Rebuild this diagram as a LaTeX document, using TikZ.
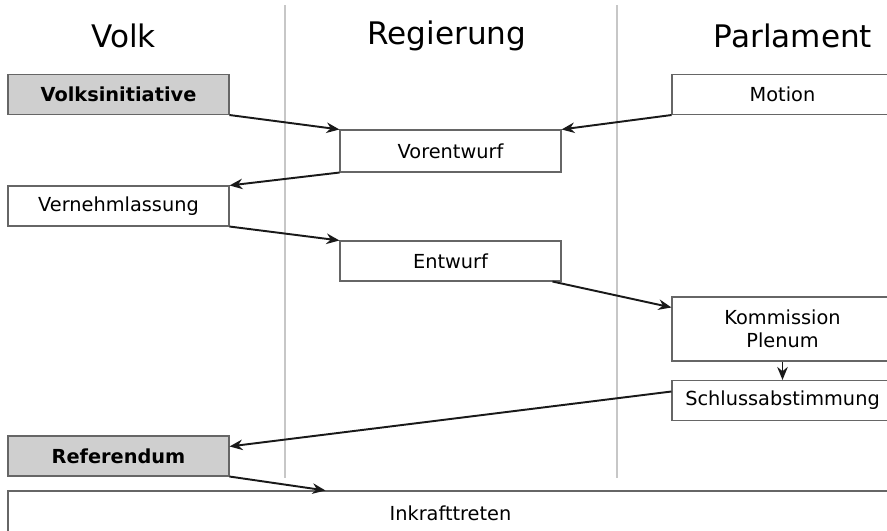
\documentclass[tikz,border=0pt]{standalone}
\usepackage{fontspec}
\setmainfont{DejaVu Sans}
\usetikzlibrary{arrows.meta}
\tikzset{
	stage/.style = {draw = black!60, line width = 0.6pt, fill = white, minimum width = 4.42cm, minimum height = 0.8cm, inner sep = 0pt, font = \fontsize{11}{13}\selectfont, align = center},
	vote/.style = {stage, fill = black!19, font = \fontsize{11}{13}\selectfont\bfseries},
	head/.style = {font = \fontsize{17.7}{20}\selectfont},
	flow/.style = {-{Stealth[length = 2.6mm, width = 2.1mm]}, line width = 1.1pt, black!90},
	lane/.style = {black!22, line width = 0.6pt}
}
\begin{document}
\begin{tikzpicture}
		\useasboundingbox (0, 0) rectangle (17.74, -10.62);
		%%%%%%%%%%%%%
		\draw [lane] (5.70, -0.10) -- (5.70, -9.56);
		\draw [lane] (12.34, -0.10) -- (12.34, -9.56);
		%%%%%%%%%%%%%
		\node [head] (volk) at (2.47, -0.72) {Volk};
		\node [head] (reg) at (8.94, -0.72) {Regierung};
		\node [head] (parl) at (15.86, -0.72) {Parlament};
		%%%%%%%%%%%%%
		\node [vote] (vi) at (2.37, -1.89) {Volksinitiative};
		\node [stage] (mo) at (15.65, -1.89) {Motion};
		\node [stage, minimum height = 0.84cm] (vor) at (9.01, -3.02) {Vorentwurf};
		\node [stage] (ver) at (2.37, -4.12) {Vernehmlassung};
		\node [stage] (ent) at (9.01, -5.22) {Entwurf};
		\node [stage, minimum height = 1.28cm] (kp) at (15.65, -6.58) {Kommission\\Plenum};
		\node [stage] (sa) at (15.65, -8.01) {Schlussabstimmung};
		\node [vote] (ref) at (2.37, -9.12) {Referendum};
		\node [stage, minimum width = 17.7cm, minimum height = 0.9cm] (ink) at (9.01, -10.27) {Inkrafttreten};
		%%%%%%%%%%%%%
		\draw [flow] (vi.south east) to (vor.north west);
		\draw [flow] (mo.south west) to (vor.north east);
		\draw [flow] (vor.south west) to (ver.north east);
		\draw [flow] (ver.south east) to (ent.north west);
		\draw [flow] ([xshift = -0.18cm]ent.south east) to ([yshift = -0.22cm]kp.north west);
		\draw [flow] (kp.south -| sa.north) to (sa.north);
		\draw [flow] ([yshift = 0.18cm]sa.west) to ([yshift = -0.22cm]ref.north east);
		\draw [flow] (ref.south east) to ([xshift = -2.5cm]ink.north);
		%%%%%%%%%%%%%%
\end{tikzpicture}
\end{document}
